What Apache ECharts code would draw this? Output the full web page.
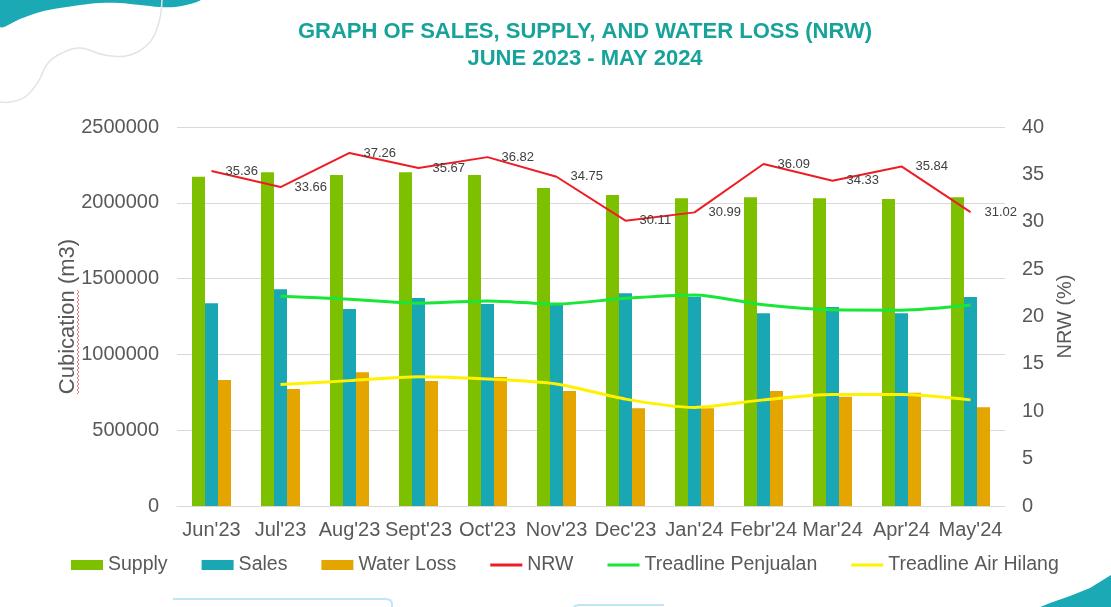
<!DOCTYPE html>
<html>
<head>
<meta charset="utf-8">
<script src="https://cdn.jsdelivr.net/npm/echarts@6/dist/echarts.min.js"></script>
<style>
html,body{margin:0;padding:0;background:#fff;}
#chart{width:1111px;height:607px;}
</style>
</head>
<body>
<div id="chart"></div>
<script>
const categories = ["Jun'23","Jul'23","Aug'23","Sept'23","Oct'23","Nov'23","Dec'23","Jan'24","Febr'24","Mar'24","Apr'24","May'24"];
const supply = [2172000,2201000,2183000,2201000,2183000,2098000,2051000,2030000,2036000,2030000,2025000,2036000];
const sales = [1337000,1429000,1299000,1372000,1332000,1328000,1403000,1381000,1271000,1313000,1271000,1379000];
const waterLoss = [831000,772000,882000,825000,851000,759000,644000,644000,759000,721000,747000,651000];
const nrw = [35.36,33.66,37.26,35.67,36.82,34.75,30.11,30.99,36.09,34.33,35.84,31.02];
const trendSales = [null,1383000,1364000,1338000,1352000,1332000,1370000,1392000,1327000,1294000,1292000,1326000];
const trendLoss = [null,802000,827000,853000,838000,805000,705000,650000,700000,735000,735000,700000];
const leftTicks = {min:0, max:2500000, interval:500000};
const rightTicks = {min:0, max:40, interval:5};

const FONT = '"Liberation Sans", Arial, sans-serif';
const TXT = '#595959';
const LINE_ICON = 'path://M0,0 H32 V3 H0 Z';
const chart = echarts.init(document.getElementById('chart'), null, {renderer:'canvas'});

// decorative squiggle under axis title
const squiggle = [];
for (let y = 290, i = 0; y <= 395; y += 2, i++) squiggle.push([i % 2 ? 79 : 77, y]);

const option = {
  backgroundColor:'#ffffff',
  animation:false,
  title:{
    text:'GRAPH OF SALES, SUPPLY, AND WATER LOSS (NRW)\nJUNE 2023 - MAY 2024',
    left:580, top:13, textAlign:'center',
    textStyle:{fontFamily:FONT, fontWeight:'bold', fontSize:22, lineHeight:27, color:'#17A39A'}
  },
  grid:{left:177, right:106, top:127, bottom:101, containLabel:false},
  legend:{
    left:71, top:555, padding:0, itemWidth:32, itemHeight:10, itemGap:34,
    textStyle:{fontFamily:FONT, fontSize:19.5, color:TXT},
    data:[
      {name:'Supply', icon:'rect'},
      {name:'Sales', icon:'rect'},
      {name:'Water Loss', icon:'rect'},
      {name:'NRW', icon:LINE_ICON},
      {name:'Treadline Penjualan', icon:LINE_ICON},
      {name:'Treadline Air Hilang', icon:LINE_ICON}
    ]
  },
  xAxis:{
    type:'category', data:categories,
    axisLine:{show:true, lineStyle:{color:'#d9d9d9', width:1}},
    axisTick:{show:false},
    axisLabel:{interval:0, margin:14, fontFamily:FONT, fontSize:20, color:TXT, hideOverlap:false}
  },
  yAxis:[
    {
      type:'value', min:leftTicks.min, max:leftTicks.max, interval:leftTicks.interval,
      name:'Cubication (m3)', nameLocation:'middle', nameGap:98, nameMoveOverlap:false,
      nameTextStyle:{fontFamily:FONT, fontSize:22, color:TXT},
      axisLine:{show:false}, axisTick:{show:false},
      axisLabel:{margin:18, fontFamily:FONT, fontSize:20, color:TXT, formatter:v => String(v)},
      splitLine:{lineStyle:{color:'#d9d9d9', width:1}}
    },
    {
      type:'value', min:rightTicks.min, max:rightTicks.max, interval:rightTicks.interval,
      name:'NRW (%)', nameLocation:'middle', nameGap:46,
      nameTextStyle:{fontFamily:FONT, fontSize:20, color:TXT},
      axisLine:{show:false}, axisTick:{show:false},
      axisLabel:{margin:17, fontFamily:FONT, fontSize:20, color:TXT},
      splitLine:{show:false}
    }
  ],
  series:[
    {name:'Supply', type:'bar', data:supply, barWidth:13, barGap:'0%', itemStyle:{color:'#7DC000'}},
    {name:'Sales', type:'bar', data:sales, barWidth:13, barGap:'0%', itemStyle:{color:'#19A7B3'}},
    {name:'Water Loss', type:'bar', data:waterLoss, barWidth:13, barGap:'0%', itemStyle:{color:'#E5A500'}},
    {name:'NRW', type:'line', yAxisIndex:1, data:nrw, symbol:'circle', symbolSize:0.1, showSymbol:true,
      lineStyle:{color:'#EE1C25', width:2}, itemStyle:{color:'#EE1C25'},
      label:{show:true, position:'right', distance:14, fontFamily:FONT, fontSize:13, color:'#404040'}},
    {name:'Treadline Penjualan', type:'line', data:trendSales, symbol:'none', smooth:0.25, connectNulls:false,
      lineStyle:{color:'#19E636', width:3}, itemStyle:{color:'#19E636'}},
    {name:'Treadline Air Hilang', type:'line', data:trendLoss, symbol:'none', smooth:0.25, connectNulls:false,
      lineStyle:{color:'#FFF200', width:3}, itemStyle:{color:'#FFF200'}}
  ],
  graphic:[
    {type:'polygon', silent:true, z:-1, shape:{smooth:0.3, points:[[0,0],[200,0],[190,4],[175,7],[160,7],[140,5],[120,3],[100,3],[80,5],[60,8],[40,12],[20,19],[0,27]]}, style:{fill:'#1AA9B5'}},
    {type:'polyline', silent:true, z:-1, shape:{smooth:0.4, points:[[162,0],[159,22],[150,42],[130,55],[105,55],[80,48],[62,53],[48,63],[38,82],[25,97],[10,102],[0,102]]}, style:{fill:null, stroke:'#dfe4ea', lineWidth:1.5}},
    {type:'polyline', silent:true, z:-1, shape:{points:[[173,599],[386,599],[390,600],[392,603],[392,612]]}, style:{fill:null, stroke:'#bfe5f6', lineWidth:2}},
    {type:'polyline', silent:true, z:-1, shape:{points:[[573,612],[573,609],[575,606],[579,605],[664,605]]}, style:{fill:null, stroke:'#bfe5f6', lineWidth:2}},
    {type:'polygon', silent:true, z:-1, shape:{points:[[1028,612],[1050,603],[1070,596],[1090,588],[1111,575],[1111,612]]}, style:{fill:'#1AA9B5'}},
    {type:'polyline', silent:true, z:5, shape:{points:squiggle}, style:{stroke:'#e8505a', lineWidth:0.8, fill:null}}
  ]
};
chart.setOption(option);
</script>
</body>
</html>
